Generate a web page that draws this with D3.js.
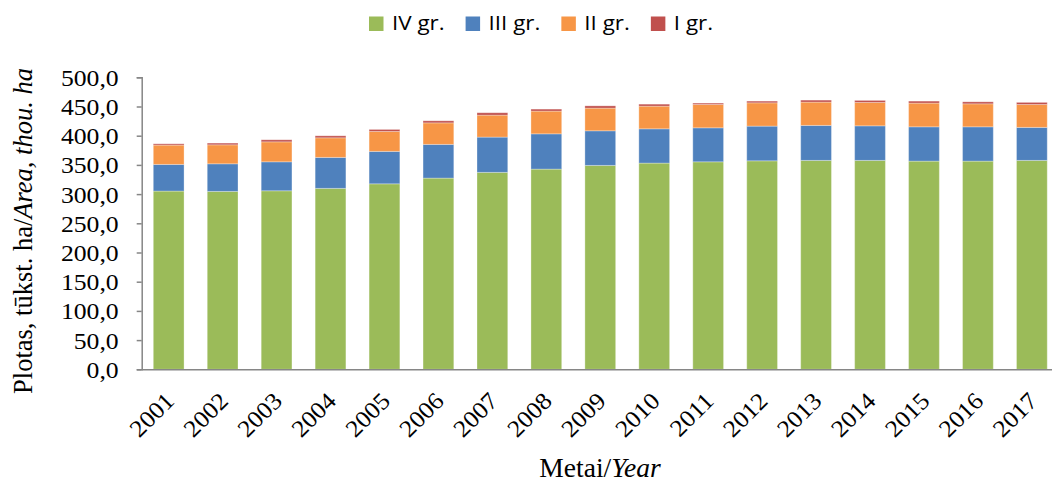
<!DOCTYPE html>
<html>
<head>
<meta charset="utf-8">
<script src="https://cdn.jsdelivr.net/npm/d3@7"></script>
<style>
  body { margin: 0; background: #fff; }
  svg { display: block; }
</style>
</head>
<body>
<svg id="chart"></svg>
<script>
// years on the x axis
const years = ["2001", "2002", "2003", "2004", "2005", "2006", "2007", "2008", "2009",
  "2010", "2011", "2012", "2013", "2014", "2015", "2016", "2017"];

// stacked groups, thousand ha
const grIV  = [305.2, 304.6, 305.7, 309.8, 317.6, 327.4, 337.2, 342.8, 349.1, 353.1, 355.3, 357.0, 357.7, 357.7, 356.5, 356.5, 357.7];
const grIII = [45.6, 47.3, 49.6, 53.0, 55.5, 57.7, 60.4, 60.4, 59.3, 58.7, 58.2, 59.4, 59.9, 59.2, 58.7, 58.7, 56.5];
const grII  = [33.1, 32.5, 34.2, 33.6, 34.2, 36.9, 37.6, 38.9, 38.8, 38.8, 40.0, 39.9, 39.9, 40.1, 40.6, 39.4, 39.3];
const grI   = [2.2, 2.9, 3.5, 3.4, 3.4, 3.5, 4.1, 3.4, 3.9, 3.4, 2.3, 2.9, 3.4, 3.4, 3.4, 3.4, 3.5];

const seriesNames = ["IV gr.", "III gr.", "II gr.", "I gr."];
const seriesColors = ["#9bbb59", "#4f81bd", "#f79646", "#c0504d"];

const yTicks = [0, 50, 100, 150, 200, 250, 300, 350, 400, 450, 500];

const width = 1052, height = 482;
const serif = "Liberation Serif";

const svg = d3.select("#chart")
  .attr("width", width)
  .attr("height", height);

const rows = years.map((y, i) => ({
  year: y, "IV gr.": grIV[i], "III gr.": grIII[i], "II gr.": grII[i], "I gr.": grI[i]
}));
const stacked = d3.stack().keys(seriesNames)(rows);

const x = d3.scaleBand()
  .domain(years)
  .range([141.7, 141.7 + 17 * 53.95])
  .paddingInner(0.43)
  .paddingOuter(0.215);

const y = d3.scaleLinear()
  .domain([0, 500])
  .range([369.3, 77.3]);

// bars
const layers = svg.append("g").selectAll("g")
  .data(stacked)
  .join("g")
  .attr("fill", (d, i) => seriesColors[i]);

layers.selectAll("rect")
  .data(d => d)
  .join("rect")
  .attr("x", d => x(d.data.year))
  .attr("y", d => y(d[1]))
  .attr("width", x.bandwidth())
  .attr("height", d => y(d[0]) - y(d[1]))
  .attr("stroke", "#fff")
  .attr("stroke-opacity", 0.3)
  .attr("stroke-width", 1);

// y axis
const yAxis = svg.append("g")
  .attr("transform", "translate(141.7,0)")
  .call(d3.axisLeft(y).tickValues(yTicks).tickSize(5)
    .tickFormat(d => d3.format(".1f")(d).replace(".", ",")))
  .attr("font-family", serif)
  .attr("font-size", 24);

yAxis.select(".domain").attr("stroke", "#868686").attr("stroke-width", 1.5);
yAxis.selectAll(".tick line").attr("stroke", "#868686").attr("stroke-width", 1.5);
yAxis.selectAll(".tick text")
  .attr("x", null)
  .attr("dy", null)
  .attr("transform", "translate(-23,8) scale(1.07,1)")
  .attr("fill", "#000");

// x axis
const xAxis = svg.append("g")
  .attr("transform", `translate(0,${y(0)})`)
  .call(d3.axisBottom(x).tickSize(0).tickSizeOuter(0))
  .attr("font-family", serif)
  .attr("font-size", 24);

xAxis.select(".domain").attr("stroke", "#868686").attr("stroke-width", 1.5);
xAxis.selectAll(".tick text")
  .attr("y", null)
  .attr("dy", null)
  .attr("text-anchor", "end")
  .attr("transform", "translate(7,33) rotate(-45) scale(1.07,1)")
  .attr("fill", "#000");

// axis titles
const yTitle = svg.append("text")
  .attr("transform", "translate(32,231) rotate(-90)")
  .attr("text-anchor", "middle")
  .attr("font-family", serif)
  .attr("font-size", 26.5);
yTitle.append("tspan").text("Plotas, tūkst. ha/");
yTitle.append("tspan").style("font-style", "italic").text("Area, thou. ha");

const xTitle = svg.append("text")
  .attr("transform", "translate(600,477) scale(1.04,1)")
  .attr("text-anchor", "middle")
  .attr("font-family", serif)
  .attr("font-size", 26.5);
xTitle.append("tspan").text("Metai/");
xTitle.append("tspan").style("font-style", "italic").text("Year");

// legend
const legend = svg.append("g").attr("transform", "translate(369,0)");
let lx = 0;
seriesNames.forEach((name, i) => {
  const item = legend.append("g").attr("transform", `translate(${lx},0)`);
  item.append("rect")
    .attr("x", 0).attr("y", 16.5)
    .attr("width", 14.5).attr("height", 14.5)
    .attr("fill", seriesColors[i]);
  const t = item.append("text")
    .attr("transform", "translate(23,30) scale(1.12,1)")
    .attr("font-family", "Open Sans")
    .attr("font-size", 20)
    .attr("fill", "#000")
    .text(name);
  lx += 23 + t.node().getComputedTextLength() * 1.12 + 21;
});
</script>
</body>
</html>
